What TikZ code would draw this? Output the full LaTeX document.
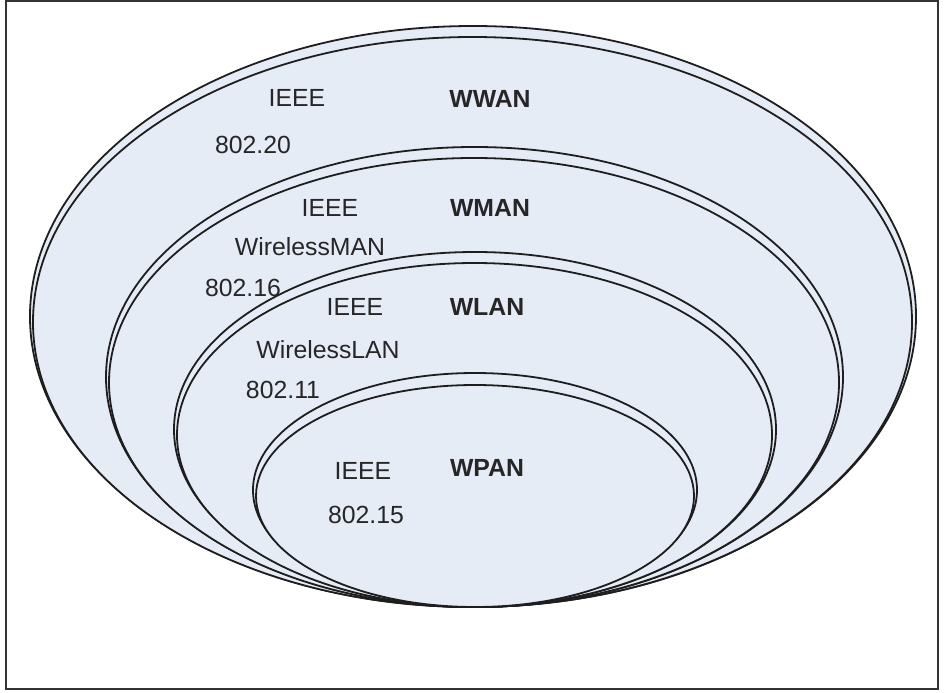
\documentclass[tikz,border=0pt]{standalone}
\usepackage{fontspec}
\setmainfont{Liberation Sans}
\usepackage{tikz}

\definecolor{ringfill}{RGB}{230,236,246}
\definecolor{ringline}{RGB}{30,30,30}

\tikzset{
  ring/.style={draw=ringline, line width=0.9pt, fill=ringfill},
  lbl/.style={font=\fontsize{12.4}{14}\selectfont, text=black!85, inner sep=0pt},
  net/.style={lbl, font=\fontsize{12.4}{14}\selectfont\bfseries}
}

\begin{document}
\begin{tikzpicture}[x=0.5pt,y=0.5pt]
\useasboundingbox (0,0) rectangle (946,692);
\draw[line width=1pt, black!80] (6,3) rectangle (938,691);

% WWAN
\draw[ring] (473,375.5) ellipse [x radius=443, y radius=290.5];
\draw[ring] (472.5,370) ellipse [x radius=439.5, y radius=285];
% WMAN
\draw[ring] (474.5,315) ellipse [x radius=368.5, y radius=230];
\draw[ring] (474,309.5) ellipse [x radius=365, y radius=224.5];
% WLAN
\draw[ring] (475,262.5) ellipse [x radius=301, y radius=177.5];
\draw[ring] (474.5,257) ellipse [x radius=297.5, y radius=172];
% WPAN
\draw[ring] (475,202) ellipse [x radius=222, y radius=117];
\draw[ring] (475,196) ellipse [x radius=219, y radius=111];

\node[lbl] (wwanieee) at (297,594) {IEEE};
\node[net] (wwan) at (490,593) {WWAN};
\node[lbl] (wwannum) at (253,547) {802.20};

\node[lbl] (wmanieee) at (330,484) {IEEE};
\node[net] (wman) at (490,484) {WMAN};
\node[lbl] (wmanname) at (310,445) {WirelessMAN};
\node[lbl] (wmannum) at (243,404) {802.16};

\node[lbl] (wlanieee) at (355,385) {IEEE};
\node[net] (wlan) at (487,385) {WLAN};
\node[lbl] (wlanname) at (328,342) {WirelessLAN};
\node[lbl] (wlannum) at (283,302) {802.11};

\node[lbl] (wpanieee) at (363,221) {IEEE};
\node[net] (wpan) at (487,224) {WPAN};
\node[lbl] (wpannum) at (366,177) {802.15};
\end{tikzpicture}
\end{document}
